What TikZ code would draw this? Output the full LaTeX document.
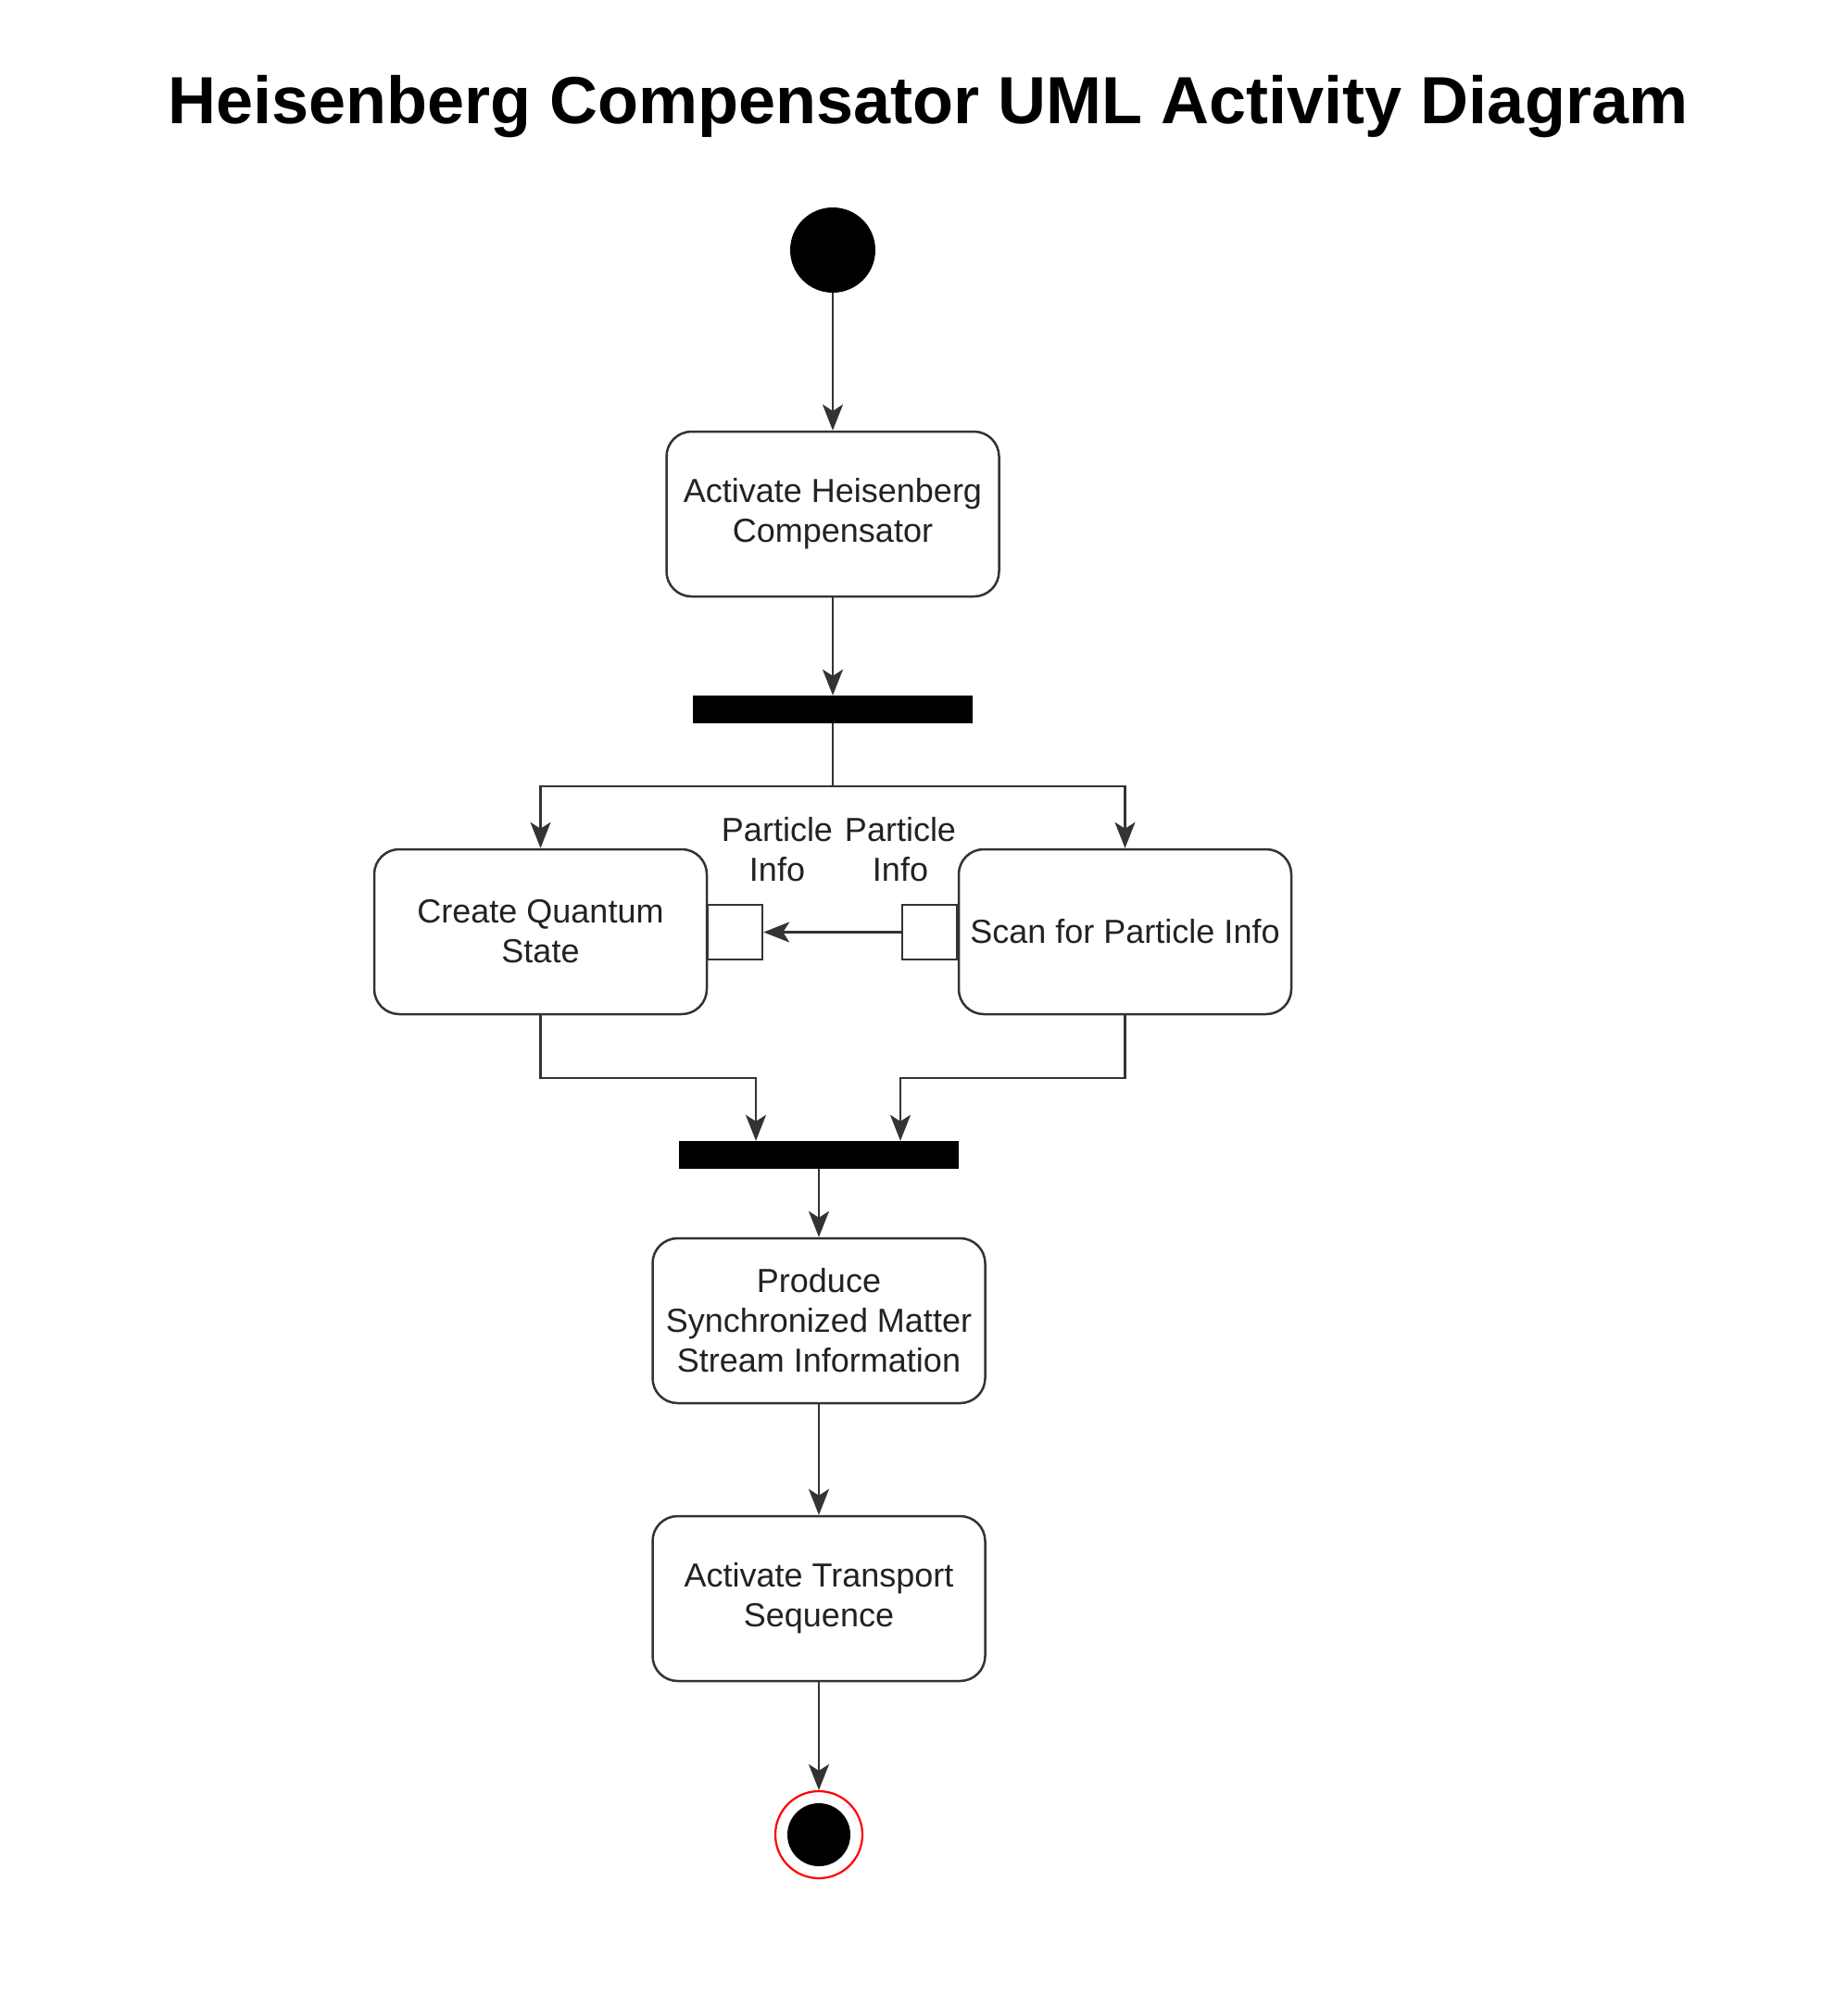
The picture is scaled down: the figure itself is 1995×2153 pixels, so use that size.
\documentclass[tikz,border=0pt]{standalone}
\usepackage{fontspec}
\setmainfont{Liberation Sans}
\usetikzlibrary{arrows.meta,positioning}
\definecolor{ln}{HTML}{333333}
\definecolor{tx}{HTML}{222222}
\tikzset{
  actbox/.style={draw=ln, line width=2.5pt, rounded corners=27pt, fill=white,
    minimum width=359pt, minimum height=178pt, align=center, inner sep=0pt,
    text=tx, font=\fontsize{36}{43}\selectfont},
  barbox/.style={fill=black, minimum width=302pt, minimum height=30pt, inner sep=0pt},
  pinbox/.style={draw=ln, line width=2.5pt, fill=white, minimum size=59pt, inner sep=0pt},
  pinlabel/.style={align=center, inner sep=0pt, text=tx, font=\fontsize{36}{43}\selectfont},
  arr/.style={draw=ln, line width=2.5pt, -{Stealth[length=28pt, width=22pt, inset=7pt]}},
  ln/.style={draw=ln, line width=2.5pt},
}
\begin{document}
\begin{tikzpicture}[x=1pt, y=-1pt]
\useasboundingbox (0,0) rectangle (1995,2153);
\fill[white] (0,0) rectangle (1995,2153);
% title
\node[anchor=base, inner sep=0pt, font=\fontsize{72}{86}\selectfont\bfseries] (title) at (1002,133) {Heisenberg Compensator UML Activity Diagram};
% start
\node[circle, fill=black, minimum size=92pt, inner sep=0pt] (start) at (899,270) {};
% actions
\node[actbox] (a1) at (899,555) {Activate Heisenberg\\Compensator};
\node[barbox] (f1) at (899,766) {};
\node[actbox] (lb) at (583.5,1006) {Create Quantum\\State};
\node[actbox] (rb) at (1214.5,1006) {Scan for Particle Info};
\node[pinbox] (p1) at (793.5,1006.5) {};
\node[pinbox] (p2) at (1003.5,1006.5) {};
\node[pinlabel] (l1) at (839,917) {Particle\\Info};
\node[pinlabel] (l2) at (972,917) {Particle\\Info};
\node[barbox] (f2) at (884,1247) {};
\node[actbox] (a3) at (884,1426) {Produce\\Synchronized Matter\\Stream Information};
\node[actbox] (a4) at (884,1726) {Activate Transport\\Sequence};
% end
\node[circle, draw=red, line width=2.2pt, fill=white, minimum size=94pt, inner sep=0pt] (endo) at (884,1981) {};
\node[circle, fill=black, minimum size=68pt, inner sep=0pt] (endi) at (884,1981) {};
% junction coordinates
\coordinate (j1) at (899,849);
\coordinate (k1) at (816,1164);
\coordinate (k2) at (972,1164);
% connectors
\draw[arr] (start) -- (a1);
\draw[arr] (a1) -- (f1);
\draw[ln] (f1) -- (j1);
\draw[arr] (j1) -| (lb);
\draw[arr] (j1) -| (rb);
\draw[arr] (p2) -- (p1);
\draw[arr] (lb) |- (k1) -- (k1 |- f2.north);
\draw[arr] (rb) |- (k2) -- (k2 |- f2.north);
\draw[arr] (f2) -- (a3);
\draw[arr] (a3) -- (a4);
\draw[arr] (a4) -- (endo);
\end{tikzpicture}
\end{document}
